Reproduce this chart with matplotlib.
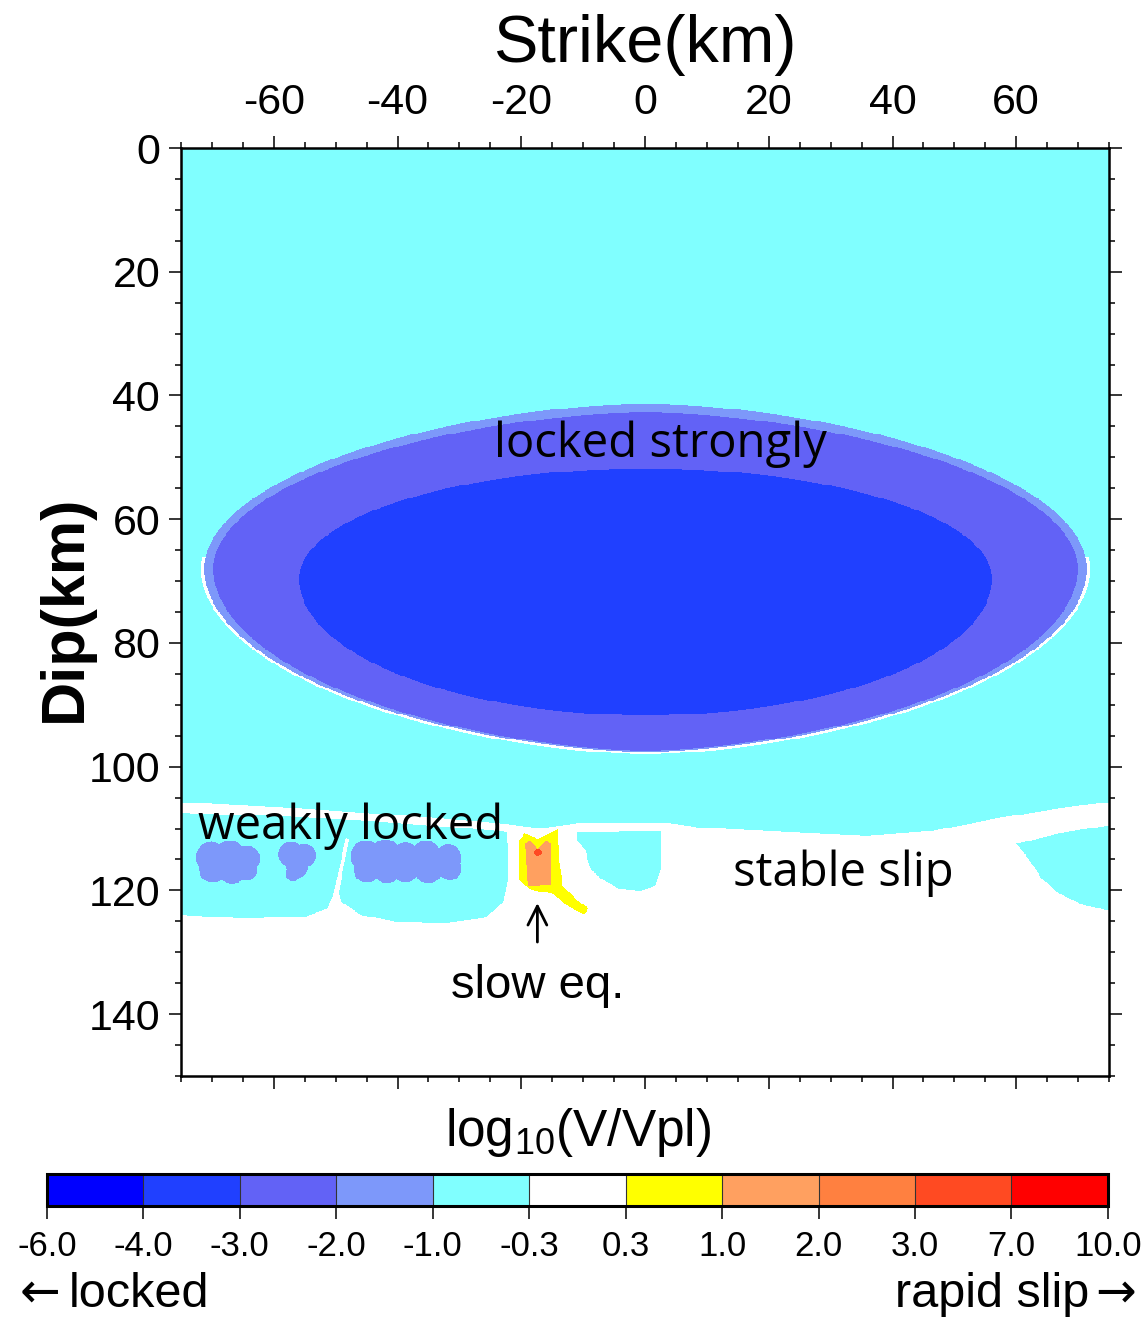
import numpy as np
import matplotlib
matplotlib.use('Agg')
import matplotlib.pyplot as plt
from matplotlib.colors import ListedColormap, BoundaryNorm
from matplotlib.cm import ScalarMappable
from matplotlib.path import Path
from matplotlib.ticker import MultipleLocator

plt.rcParams['font.family'] = ['Liberation Sans', 'DejaVu Sans']
plt.rcParams['axes.unicode_minus'] = False
plt.rcParams['mathtext.fontset'] = 'custom'
plt.rcParams['mathtext.rm'] = 'Liberation Sans'

# colour classes of log10(V/Vpl)
levels = [-6.0, -4.0, -3.0, -2.0, -1.0, -0.3, 0.3, 1.0, 2.0, 3.0, 7.0, 10.0]
colors = ['#0000ff', '#2040ff', '#6262f6', '#7d98fa', '#80ffff', '#ffffff',
          '#ffff00', '#ffa060', '#ff8040', '#ff4a22', '#ff0000']

# log10(V/Vpl) of each zone
v_stable = 0.0
v_weak = -0.6
v_rim = -1.5
v_lock = -2.5
v_core = -3.5
v_slow_edge = 0.6
v_slow = 1.5
v_slow_peak = 5.0

# strongly locked lens: centre strike, centre dip, half length, half height up, half height down, exponent
white_lens = [0.0, 68.0, 71.8, 26.9, 30.0, 1.7]
rim_lens = [0.0, 68.0, 71.3, 26.7, 29.6, 1.7]
lock_lens = [0.0, 68.0, 69.8, 25.3, 29.4, 1.7]
core_lens = [0.0, 69.6, 56.0, 17.8, 22.1, 2.0]

# patches below 100 km (strike, dip)
shallow_zone = [(-75, 0), (75, 0), (75, 105.8), (68, 106.6), (57.3, 108.3), (46.5, 110.4),
                (35.8, 111.2), (25, 110.7), (8.9, 109.9), (3.5, 109.1), (-10.5, 109.1),
                (-16.9, 110.0), (-23.4, 109.2), (-39.5, 107.9), (-55.6, 106.8), (-75, 105.8)]
weak_block = [(-75, 107.5), (-60, 108.0), (-45, 108.8), (-30, 109.9), (-22.4, 110.6),
              (-22.2, 118.0), (-23.0, 122.0), (-26.0, 124.5), (-32.0, 125.3), (-40.0, 125.2),
              (-46.0, 124.0), (-49.0, 122.0), (-50.5, 121.0), (-51.5, 123.0), (-55.0, 124.3),
              (-65.0, 124.6), (-75.0, 124.0)]
crack = [(-48.4, 111.5), (-47.9, 111.8), (-49.6, 120.5), (-48.3, 125.0), (-51.6, 125.0), (-50.4, 120.5)]
mid_patch = [(-11.0, 110.7), (2.4, 110.4), (2.4, 116.8), (1.6, 119.3), (-0.8, 120.1), (-4.4, 119.7),
             (-7.3, 118.1), (-8.9, 116.5), (-9.7, 113.6), (-11.0, 112.0)]
right_patch = [(60.0, 112.5), (66.9, 110.8), (75.0, 109.5), (75.0, 123.3), (71.0, 122.5),
               (66.9, 120.6), (64.0, 118.1), (62.1, 115.2)]
# weakly locked spots: strike, dip, radius
weak_spots = [(-70.2, 114.7, 2.5), (-69.9, 116.5, 2.3), (-67.2, 114.5, 2.5), (-66.8, 116.6, 2.4),
              (-64.4, 114.9, 2.1), (-64.6, 116.6, 1.9),
              (-57.3, 114.2, 2.0), (-55.2, 114.4, 1.9), (-56.3, 116.2, 1.8), (-57.0, 117.4, 1.2),
              (-45.2, 114.5, 2.5), (-45.0, 116.6, 2.2), (-42.0, 114.3, 2.5), (-41.8, 116.5, 2.4),
              (-38.8, 114.6, 2.3), (-38.8, 116.8, 2.0), (-35.5, 114.4, 2.4), (-35.1, 116.5, 2.4),
              (-31.9, 114.8, 2.2), (-31.6, 116.5, 1.9)]
slow_outer = [(-20.5, 112.0), (-19.5, 110.8), (-17.4, 111.7), (-15.3, 110.7), (-14.2, 110.2),
              (-14.0, 115.2), (-13.4, 119.3), (-11.3, 121.4), (-9.2, 123.0), (-10.0, 123.9),
              (-12.4, 122.7), (-15.0, 120.6), (-18.5, 119.9), (-20.5, 118.4)]
slow_core = [(-19.4, 112.5), (-18.7, 112.0), (-17.4, 113.3), (-16.1, 112.0), (-15.3, 112.5),
             (-15.2, 119.1), (-19.0, 119.4)]
slow_peak = [-17.4, 113.9, 0.7, 0.6, 0.6, 2.0]

strike = np.linspace(-75, 75, 1001)
dip = np.linspace(0, 150, 1001)
S, D = np.meshgrid(strike, dip)
pts = np.column_stack([S.ravel(), D.ravel()])


def in_poly(poly):
    return Path(poly).contains_points(pts).reshape(S.shape)


def in_lens(c):
    cs, cd, a, bu, bd, p = c
    u = np.abs(S - cs) / a
    v = np.where(D < cd, (cd - D) / bu, (D - cd) / bd)
    return u ** p + v ** 2 <= 1


field = np.full(S.shape, v_stable)
field[in_poly(shallow_zone)] = v_weak
field[in_poly(weak_block)] = v_weak
field[in_poly(crack)] = v_stable
field[in_poly(mid_patch)] = v_weak
field[in_poly(right_patch)] = v_weak
for s0, d0, r in weak_spots:
    field[(S - s0) ** 2 + (D - d0) ** 2 <= r ** 2] = v_rim
field[in_poly(slow_outer)] = v_slow_edge
field[in_poly(slow_core)] = v_slow
field[in_lens(slow_peak)] = v_slow_peak
field[in_lens(white_lens) & (D > 66)] = v_stable
field[in_lens(rim_lens)] = v_rim
field[in_lens(lock_lens)] = v_lock
field[in_lens(core_lens)] = v_core

cmap = ListedColormap(colors)
norm = BoundaryNorm(levels, cmap.N)

fig = plt.figure(figsize=(11.45, 13.31), dpi=100)
ax = fig.add_axes([0.1581, 0.1916, 0.8105, 0.6972])
ax.imshow(field, extent=[-75, 75, 150, 0], cmap=cmap, norm=norm,
          interpolation='nearest', aspect='auto')
ax.set_xlim(-75, 75)
ax.set_ylim(150, 0)

ax.xaxis.set_minor_locator(MultipleLocator(5))
ax.yaxis.set_minor_locator(MultipleLocator(5))
ax.set_yticks([0, 20, 40, 60, 80, 100, 120, 140])
ax.set_xticks([-60, -40, -20, 0, 20, 40, 60])
ax.tick_params(which='both', direction='out', top=True, bottom=True, left=True, right=True,
               labeltop=True, labelbottom=False, labelleft=True, labelright=False,
               width=1.1)
ax.tick_params(which='major', length=9, labelsize=31)
ax.tick_params(axis='x', which='major', pad=9)
ax.tick_params(axis='y', which='major', pad=6)
ax.tick_params(which='minor', length=4.5)
for sp in ax.spines.values():
    sp.set_linewidth(1.8)

fig.text(0.5633, 0.966, 'Strike(km)', ha='center', va='center', fontsize=48)
fig.text(0.0568, 0.543, 'Dip(km)', ha='center', va='center', rotation=90,
         fontsize=44, fontweight='bold')

ax.text(2.4, 50.0, 'locked strongly', ha='center', va='baseline', fontsize=34, family='Open Sans')
ax.text(-72.3, 111.7, 'weakly locked', ha='left', va='baseline', fontsize=34, family='Open Sans')
ax.text(14.2, 119.3, 'stable slip', ha='left', va='baseline', fontsize=34, family='Open Sans')
ax.text(-17.4, 137.4, 'slow eq.', ha='center', va='baseline', fontsize=34)
ax.annotate('', xy=(-17.4, 121.6), xytext=(-17.4, 128.8),
            arrowprops=dict(arrowstyle='->', lw=2.0, color='black', mutation_scale=34))

cax = fig.add_axes([0.041, 0.0939, 0.9266, 0.0240])
cb = fig.colorbar(ScalarMappable(norm=norm, cmap=cmap), cax=cax, orientation='horizontal',
                  spacing='uniform', ticks=levels, drawedges=True)
cb.set_ticklabels(['%.1f' % v for v in levels])
cb.outline.set_linewidth(2.2)
cb.dividers.set_linewidth(0.8)
cb.dividers.set_color('#333333')
cax.tick_params(direction='out', length=9, width=1.1, labelsize=25, pad=8)

fig.text(0.505, 0.1495, r'log$_{10}$(V/Vpl)', ha='center', va='center', fontsize=37)
fig.text(0.017, 0.018, '\u2190', ha='left', va='baseline', fontsize=35, family='DejaVu Sans')
fig.text(0.060, 0.018, 'locked', ha='left', va='baseline', fontsize=35)
fig.text(0.951, 0.018, 'rapid slip', ha='right', va='baseline', fontsize=35)
fig.text(0.992, 0.018, '\u2192', ha='right', va='baseline', fontsize=35, family='DejaVu Sans')

fig.savefig('out.png', dpi=100)
